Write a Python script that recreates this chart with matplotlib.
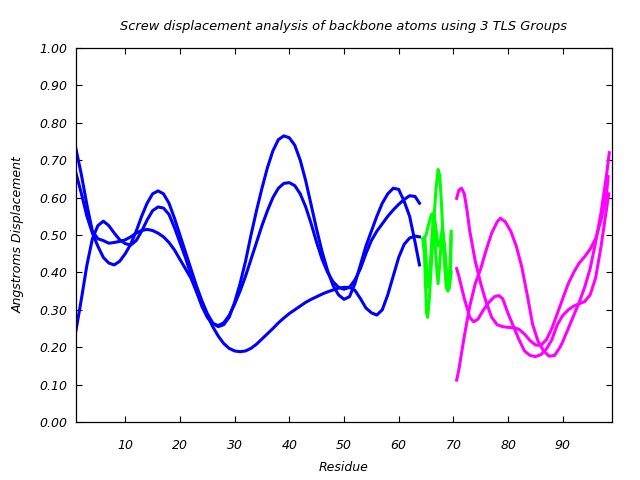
import matplotlib
matplotlib.use('Agg')
import matplotlib.pyplot as plt

# group 1 (blue), residues 1-64
blue_x = list(range(1, 64)) + [63.8]
blue_a = [0.73, 0.66, 0.58, 0.51, 0.49, 0.485, 0.478, 0.48, 0.483, 0.487,
          0.495, 0.505, 0.512, 0.515, 0.512, 0.505, 0.495, 0.48, 0.46, 0.435,
          0.41, 0.385, 0.35, 0.315, 0.285, 0.255, 0.23, 0.21, 0.197, 0.19,
          0.188, 0.19, 0.197, 0.208, 0.222, 0.236, 0.25, 0.265, 0.278, 0.29,
          0.30, 0.31, 0.32, 0.328, 0.335, 0.342, 0.348, 0.353, 0.358, 0.36,
          0.36, 0.352, 0.33, 0.305, 0.292, 0.286, 0.30, 0.34, 0.39, 0.44,
          0.475, 0.492, 0.497, 0.495]
blue_b = [0.665, 0.61, 0.55, 0.505, 0.47, 0.44, 0.425, 0.42, 0.43, 0.45,
          0.475, 0.51, 0.55, 0.585, 0.61, 0.618, 0.61, 0.585, 0.545, 0.50,
          0.455, 0.41, 0.365, 0.325, 0.29, 0.265, 0.255, 0.26, 0.28, 0.32,
          0.37, 0.43, 0.50, 0.565, 0.625, 0.68, 0.725, 0.755, 0.765, 0.76,
          0.74, 0.70, 0.645, 0.58, 0.515, 0.455, 0.405, 0.365, 0.34, 0.328,
          0.335, 0.37, 0.42, 0.47, 0.51, 0.55, 0.585, 0.61, 0.625, 0.622,
          0.59, 0.55, 0.48, 0.42]
blue_c = [0.245, 0.33, 0.42, 0.49, 0.525, 0.537, 0.525, 0.505, 0.487, 0.477,
          0.473, 0.485, 0.51, 0.54, 0.565, 0.575, 0.572, 0.555, 0.52, 0.48,
          0.44, 0.395, 0.35, 0.31, 0.28, 0.262, 0.258, 0.265, 0.285, 0.315,
          0.35, 0.39, 0.435, 0.48, 0.525, 0.565, 0.60, 0.625, 0.638, 0.64,
          0.632, 0.61, 0.575, 0.53, 0.48, 0.435, 0.40, 0.375, 0.36, 0.355,
          0.36, 0.38, 0.41, 0.45, 0.485, 0.51, 0.53, 0.55, 0.567, 0.582,
          0.595, 0.605, 0.603, 0.585]

# group 2 (green), residues 65-70
green_x1 = [64.4, 64.7, 64.9, 65.1, 65.3, 65.6, 66.0, 66.4, 66.8, 67.2,
            67.5, 67.8, 68.1, 68.4, 68.7, 69.0, 69.3, 69.5, 69.6]
green_y1 = [0.49, 0.45, 0.37, 0.29, 0.28, 0.33, 0.43, 0.53, 0.62, 0.675,
            0.66, 0.59, 0.50, 0.42, 0.36, 0.35, 0.36, 0.42, 0.50]
green_x2 = [64.5, 65.0, 65.5, 66.0, 66.3, 66.6, 66.9, 67.2, 67.5, 67.8,
            68.1, 68.4, 68.7, 69.0, 69.3, 69.5, 69.6]
green_y2 = [0.49, 0.50, 0.53, 0.555, 0.55, 0.49, 0.42, 0.37, 0.42, 0.49,
            0.50, 0.45, 0.38, 0.36, 0.38, 0.47, 0.51]
green_x3 = [64.8, 65.3, 65.7, 66.1, 66.4, 66.8, 67.2, 67.6, 68.0, 68.4,
            68.8, 69.2, 69.6]
green_y3 = [0.49, 0.36, 0.40, 0.50, 0.56, 0.52, 0.47, 0.48, 0.52, 0.47,
            0.39, 0.36, 0.40]

# group 3 (magenta), residues 71-99
mag_x1 = [70.6, 71.0, 71.5, 72.0, 72.5, 73, 74, 75, 76, 77, 78, 79, 80, 81,
          82, 83, 84, 85, 86, 87, 88, 89, 90, 91, 92, 93, 94, 95, 96, 97, 98,
          98.3]
mag_y1 = [0.598, 0.62, 0.625, 0.61, 0.565, 0.51, 0.43, 0.37, 0.32, 0.28,
          0.26, 0.255, 0.253, 0.252, 0.248, 0.235, 0.218, 0.206, 0.205, 0.22,
          0.25, 0.29, 0.33, 0.37, 0.40, 0.425, 0.442, 0.462, 0.49, 0.54, 0.61,
          0.656]
mag_x2 = [70.6, 71, 72, 73, 73.7, 74.5, 75.5, 76.5, 77.5, 78.3, 79, 80, 81,
          82, 83, 84, 85, 86, 87, 88, 89, 90, 91, 92, 93, 94, 95, 96, 97, 98,
          98.4]
mag_y2 = [0.41, 0.39, 0.33, 0.28, 0.268, 0.275, 0.30, 0.32, 0.335, 0.338,
          0.33, 0.29, 0.255, 0.22, 0.19, 0.178, 0.175, 0.18, 0.195, 0.22,
          0.26, 0.285, 0.30, 0.31, 0.316, 0.322, 0.34, 0.385, 0.47, 0.57, 0.61]
mag_x3 = [70.6, 71, 72, 73, 74, 75, 76, 77, 78, 78.6, 79.5, 80.5, 81.5,
          82.5, 83.5, 84.5, 85.5, 86.5, 87.5, 88.5, 89.5, 90, 91, 92, 93, 94,
          95, 96, 97, 98, 98.5]
mag_y3 = [0.112, 0.14, 0.23, 0.31, 0.37, 0.41, 0.46, 0.505, 0.535, 0.545,
          0.535, 0.51, 0.47, 0.415, 0.34, 0.26, 0.215, 0.19, 0.176, 0.178,
          0.2, 0.215, 0.25, 0.285, 0.32, 0.36, 0.41, 0.48, 0.56, 0.66, 0.72]

x_ticks = [10, 20, 30, 40, 50, 60, 70, 80, 90]
y_ticks = [0.0, 0.1, 0.2, 0.3, 0.4, 0.5, 0.6, 0.7, 0.8, 0.9, 1.0]

plt.rcParams['font.family'] = 'DejaVu Sans'
plt.rcParams['font.style'] = 'italic'

fig = plt.figure(figsize=(6.4, 4.8), dpi=100)
ax = fig.add_axes([76 / 640, 1 - 422 / 480, 536 / 640, 374 / 480])

lw = 2.2
for y in (blue_a, blue_b, blue_c):
    ax.plot(blue_x, y, color='#0000ff', lw=lw)
for x, y in ((green_x1, green_y1), (green_x2, green_y2), (green_x3, green_y3)):
    ax.plot(x, y, color='#00ff00', lw=lw)
for x, y in ((mag_x1, mag_y1), (mag_x2, mag_y2), (mag_x3, mag_y3)):
    ax.plot(x, y, color='#ff00ff', lw=lw)

ax.set_xlim(1, 99)
ax.set_ylim(0, 1)
ax.set_xticks(x_ticks)
ax.set_yticks(y_ticks)
ax.set_yticklabels(['%.2f' % v for v in y_ticks])
ax.tick_params(direction='in', length=4, width=0.8, top=True, right=True,
               labelsize=9, pad=6)
ax.tick_params(axis='x', pad=12)
for s in ax.spines.values():
    s.set_linewidth(0.9)

ax.set_title('Screw displacement analysis of backbone atoms using 3 TLS Groups',
             fontsize=9.4, pad=13)
ax.set_xlabel('Residue', fontsize=9, labelpad=7)
ax.set_ylabel('Angstroms Displacement', fontsize=9, labelpad=11)

plt.savefig('out.png', format='png')
